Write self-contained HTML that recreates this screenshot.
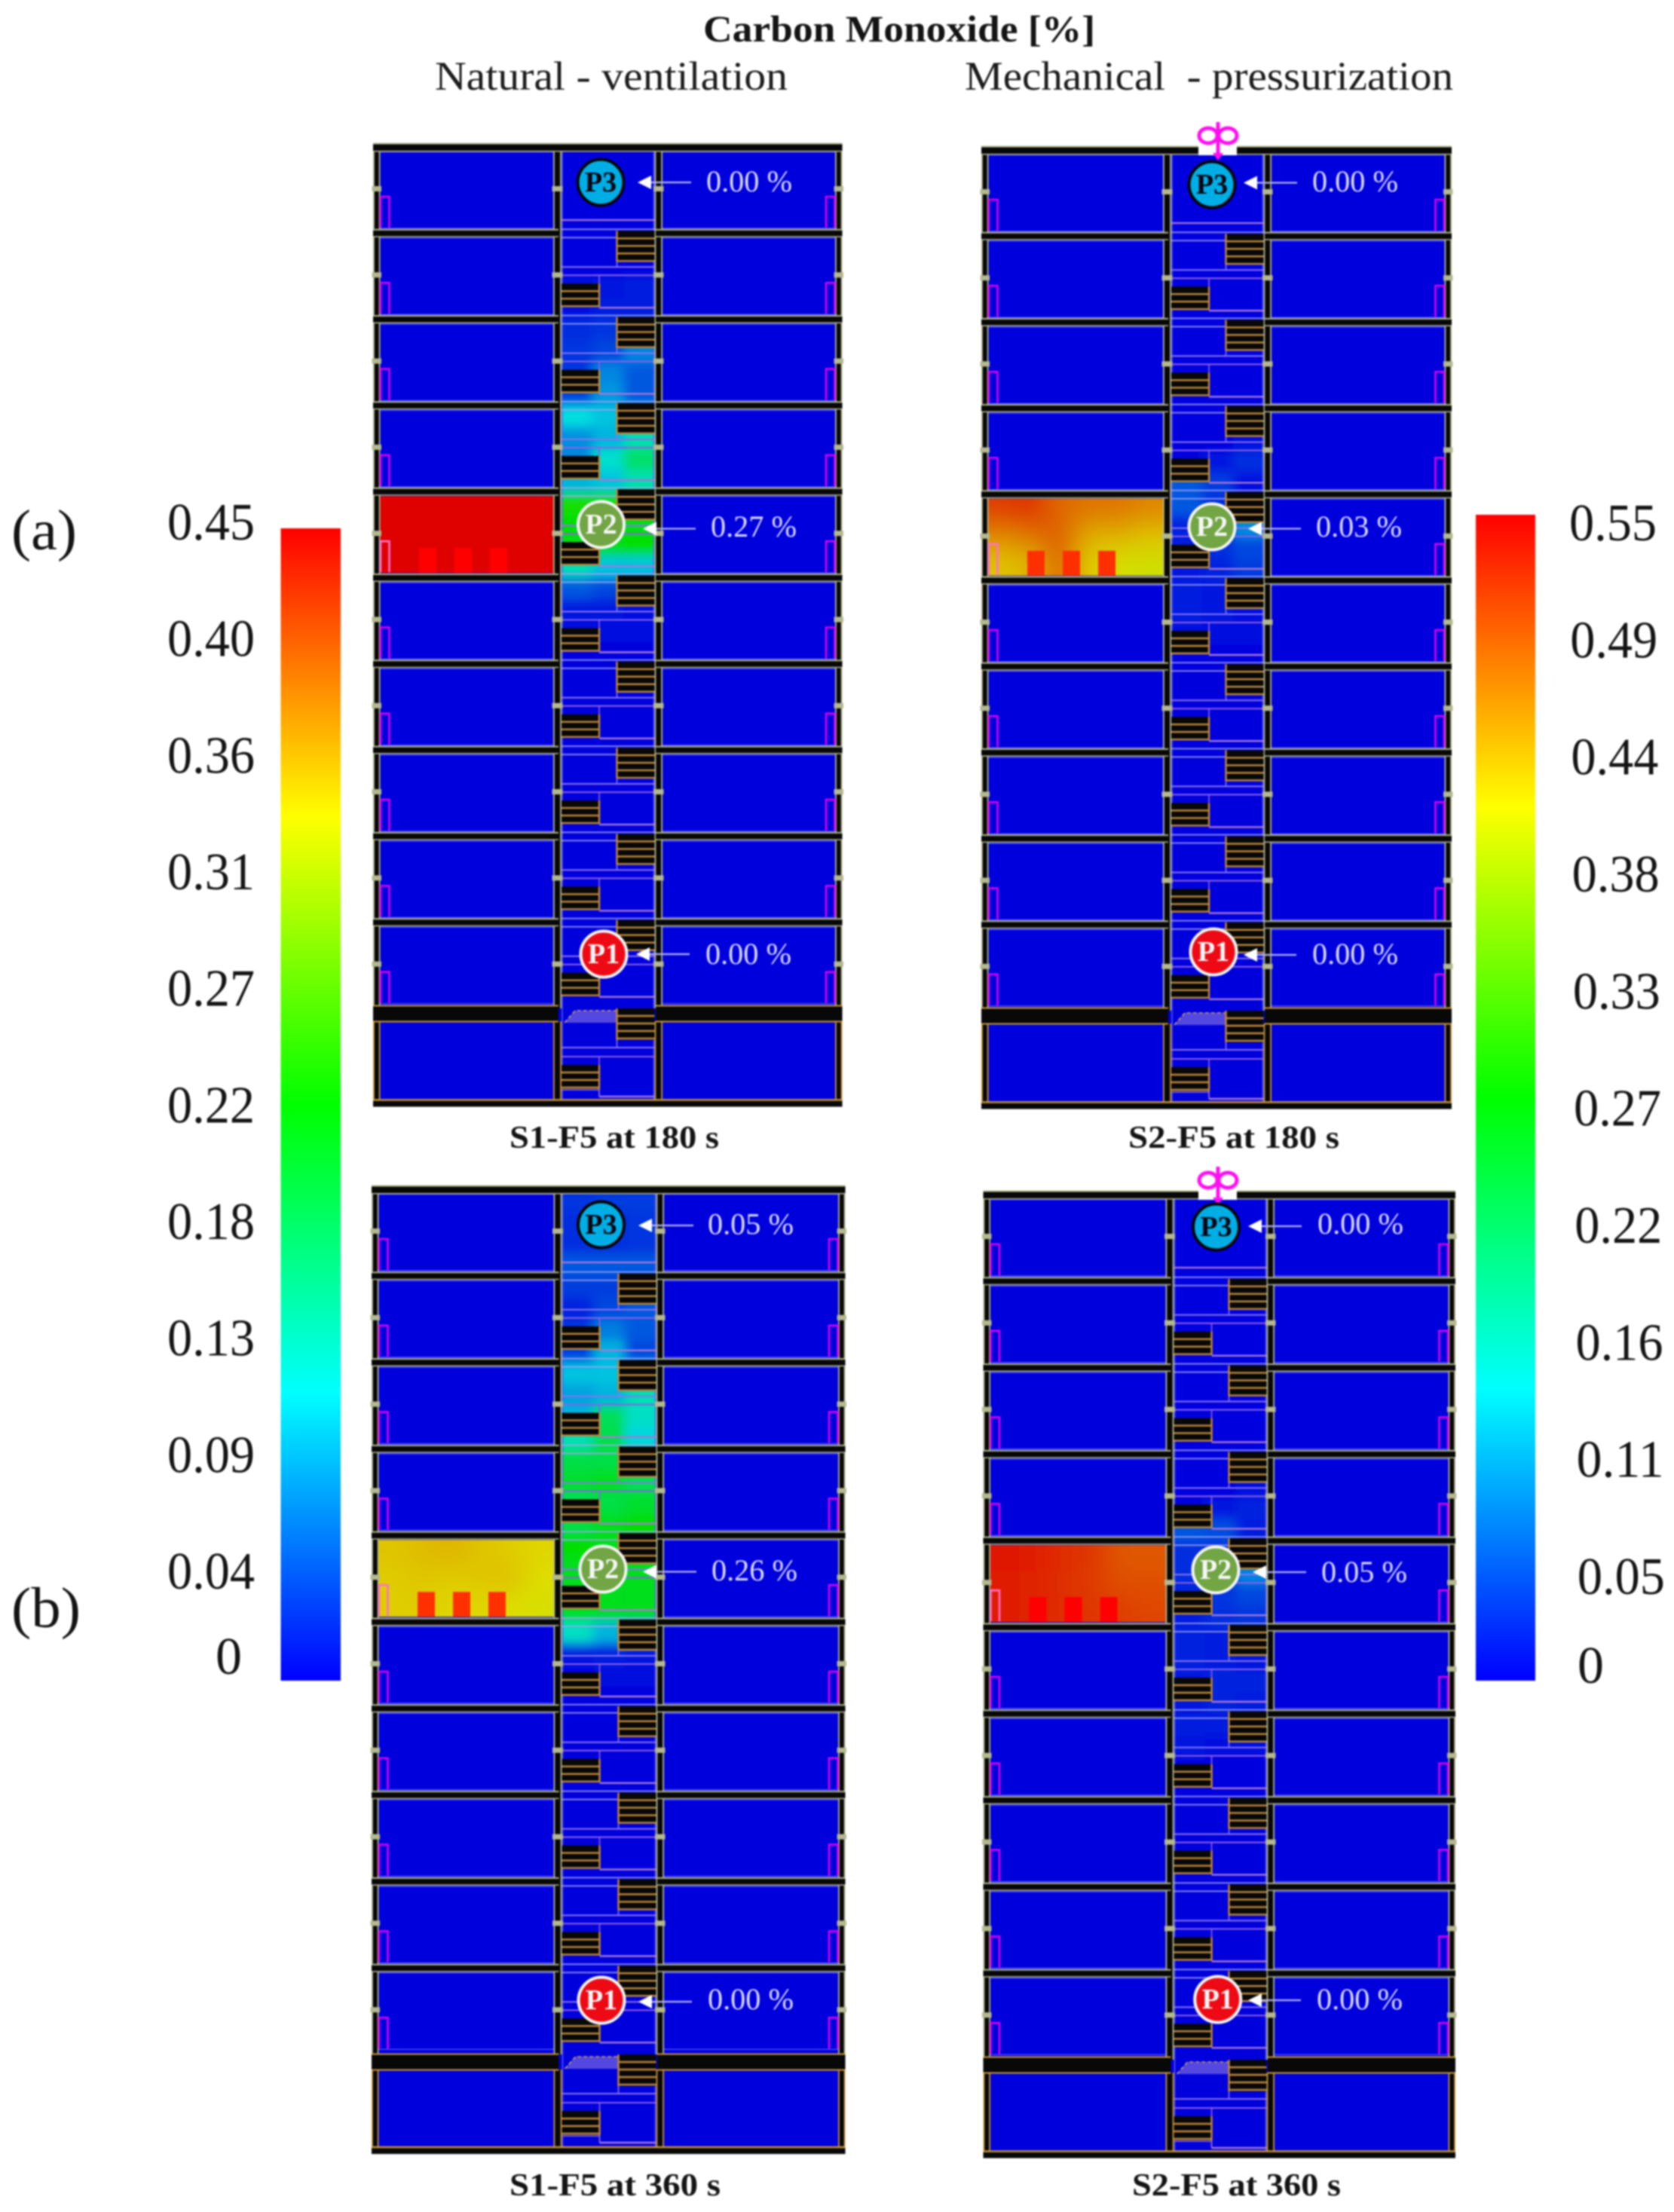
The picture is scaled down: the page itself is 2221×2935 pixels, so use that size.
<!DOCTYPE html>
<html lang="en">
<head>
<meta charset="utf-8">
<title>Carbon Monoxide [%]</title>
<style>
html,body{margin:0;padding:0;background:#fff;}
#figure{display:block;filter:blur(1px);}
text{font-family:"Liberation Serif","DejaVu Serif",serif;}
</style>
</head>
<body>
<svg id="figure" xmlns="http://www.w3.org/2000/svg" width="2221" height="2935" viewBox="0 0 2221 2935">
  <defs>
    <linearGradient id="rainbow" x1="0" y1="0" x2="0" y2="1">
      <stop offset="0" stop-color="#ff0000"/>
      <stop offset="0.25" stop-color="#ffff00"/>
      <stop offset="0.5" stop-color="#00ff00"/>
      <stop offset="0.75" stop-color="#00ffff"/>
      <stop offset="1" stop-color="#0000ff"/>
    </linearGradient>
    <filter id="smoke-blur" x="-30%" y="-30%" width="160%" height="160%">
      <feGaussianBlur stdDeviation="7"/>
    </filter>
    <filter id="room-blur" x="-30%" y="-30%" width="160%" height="160%">
      <feGaussianBlur stdDeviation="18"/>
    </filter>
  </defs>
  <rect x="0" y="0" width="2221" height="2935" fill="#ffffff"/>

  <text x="933" y="55" font-size="50" font-weight="bold" fill="#141414" textLength="520" lengthAdjust="spacingAndGlyphs">Carbon Monoxide [%]</text>
  <text x="577" y="119" font-size="54" fill="#1c1c1c" textLength="468" lengthAdjust="spacingAndGlyphs">Natural - ventilation</text>
  <text x="1280" y="119" font-size="54" fill="#1c1c1c" textLength="648" lengthAdjust="spacingAndGlyphs" xml:space="preserve">Mechanical  - pressurization</text>

  <text x="15" y="729" font-size="76" fill="#141414" textLength="87" lengthAdjust="spacingAndGlyphs">(a)</text>
  <text x="15" y="2159" font-size="76" fill="#141414" textLength="92" lengthAdjust="spacingAndGlyphs">(b)</text>

  <text x="676" y="1523" font-size="42" font-weight="bold" fill="#141414" textLength="278" lengthAdjust="spacingAndGlyphs">S1-F5 at 180 s</text>
  <text x="1497" y="1523" font-size="42" font-weight="bold" fill="#141414" textLength="280" lengthAdjust="spacingAndGlyphs">S2-F5 at 180 s</text>
  <text x="676" y="2913" font-size="42" font-weight="bold" fill="#141414" textLength="280" lengthAdjust="spacingAndGlyphs">S1-F5 at 360 s</text>
  <text x="1502" y="2913" font-size="42" font-weight="bold" fill="#141414" textLength="277" lengthAdjust="spacingAndGlyphs">S2-F5 at 360 s</text>

  <rect x="372.5" y="701" width="79.5" height="1529" fill="url(#rainbow)"/>
  <rect x="1958" y="683" width="79" height="1547" fill="url(#rainbow)"/>
  <g id="ticks"></g>
  <g id="panels"></g>
</svg>

<script>
// ---- colorbar data ----
const leftTickValues = [0.45, 0.405, 0.36, 0.315, 0.27, 0.225, 0.18, 0.135, 0.09, 0.045, 0];
const leftTickLabels = ["0.45", "0.40", "0.36", "0.31", "0.27", "0.22", "0.18", "0.13", "0.09", "0.04", "0"];
const rightTickValues = [0.55, 0.495, 0.44, 0.385, 0.33, 0.275, 0.22, 0.165, 0.11, 0.055, 0];
const rightTickLabels = ["0.55", "0.49", "0.44", "0.38", "0.33", "0.27", "0.22", "0.16", "0.11", "0.05", "0"];

// ---- probe readings, % CO (P3, P2, P1) ----
const readingsS1At180 = [0.00, 0.27, 0.00];
const readingsS2At180 = [0.00, 0.03, 0.00];
const readingsS1At360 = [0.05, 0.26, 0.00];
const readingsS2At360 = [0.00, 0.05, 0.00];

// ---- stairwell CO, fraction of colour scale: four rows per storey, columns left/middle/right ----
const shaftS1At180 = [
  [0,0,0],[0,0,0],[0,0,0],[0,0,0],
  [0,0,0],[0,0,0],[.01,.02,.03],[.01,.03,.03],
  [.05,.06,.06],[.06,.08,.15],[.06,.15,.1],[.07,.17,.1],
  [.25,.22,.2],[.16,.2,.3],[.15,.27,.38],[.2,.22,.3],
  [.52,.52,.5],[.5,.5,.48],[.48,.48,.5],[.3,.22,.22],
  [.1,.08,.04],[.02,.02,.01],[.01,.01,.01],[0,0,0]
];
const shaftS2At180 = [
  [0,0,0],[0,0,0],[0,0,0],[0,0,0],
  [0,0,0],[0,0,0],[0,0,0],[0,0,0],
  [0,0,0],[0,0,0],[0,0,0],[0,0,0],
  [0,0,0],[0,0,.01],[0,.02,.05],[.1,.07,.01],
  [.1,.05,.02],[.04,.03,.16],[.03,.05,.08],[.02,.04,.07],
  [.03,.02,.01],[.03,.02,.01],[.01,.01,.01],[0,0,0]
];
const shaftS1At360 = [
  [.06,.07,.07],[.05,.05,.06],[.05,.05,.06],[.1,.1,.1],
  [.07,.07,.08],[.04,.08,.1],[.06,.14,.1],[.07,.2,.08],
  [.22,.22,.2],[.18,.2,.3],[.2,.4,.28],[.3,.42,.24],
  [.42,.42,.42],[.45,.47,.4],[.4,.42,.45],[.42,.47,.5],
  [.5,.47,.47],[.47,.47,.47],[.47,.47,.47],[.47,.47,.47],
  [.28,.2,.12],[.02,.03,.02],[0,.01,.01],[0,0,0]
];
const shaftS2At360 = [
  [0,0,0],[0,0,0],[0,0,0],[0,0,0],
  [0,0,0],[0,0,0],[0,0,0],[0,0,0],
  [0,0,0],[0,0,0],[0,0,0],[0,0,0],
  [0,0,0],[0,0,.01],[0,.02,.04],[.1,.09,.03],
  [.05,.05,.02],[.05,.03,.15],[.04,.06,.08],[.03,.05,.06],
  [.04,.03,.03],[.04,.03,.02],[.02,.04,.04],[.02,.04,.03],
  [.03,.03,.02],[.02,.01,.01],[0,0,0],[0,0,0]
];

// ---- fire-room CO, fraction of colour scale: three rows, six columns ----
const roomS1At180 = [
  [1,1,1,1,1,1],[1,1,1,1,1,1],[1,1,1,1,1,1]
];
const roomS2At180 = [
  [.93,.95,.88,.87,.87,.85],[.85,.87,.9,.8,.8,.78],[.78,.8,.9,.77,.74,.73]
];
const roomS1At360 = [
  [.78,.79,.8,.78,.77,.76],[.77,.78,.77,.78,.79,.75],[.77,.77,.76,.76,.75,.74]
];
const roomS2At360 = [
  [.98,.97,.95,.94,.9,.9],[.97,.96,.95,.93,.91,.91],[.97,.96,.95,.94,.93,.92]
];

// ---- layout of the four sections ----
const sections = [
  {name:'section-s1-180s', x0:495, x1:1117.5, top:195, sp:114.3, ml:734, mr:868.5, fan:false, fireFill:'#ff0000', slabShift:-3,
   shaft:shaftS1At180, room:roomS1At180, readings:readingsS1At180,
   probes:[[797,242,846,917,242,937,254],[797.5,696,853,923,701.5,943,712],[801,1266,844,915,1266,936,1279]]},
  {name:'section-s2-180s', x0:1302, x1:1926, top:199, sp:114.2, ml:1543, mr:1676.5, fan:true, fireFill:'#ff3000', slabShift:-3,
   shaft:shaftS2At180, room:roomS2At180, readings:readingsS2At180,
   probes:[[1608,245,1650,1721,242.5,1741,254],[1608,699,1656,1726,701.5,1746,712],[1610,1263,1650,1720,1267,1741,1279]]},
  {name:'section-s1-360s', x0:493, x1:1121.5, top:1578, sp:114.8, ml:734.5, mr:870.5, fan:false, fireFill:'#ff3000', slabShift:0,
   shaft:shaftS1At360, room:roomS1At360, readings:readingsS1At360,
   probes:[[797.5,1625,847,920,1626,939,1637.5],[800,2082,853,924,2085.5,944,2097],[798,2654,847,918,2656,939,2666]]},
  {name:'section-s2-360s', x0:1304.5, x1:1931, top:1585, sp:114.8, ml:1546.5, mr:1680.5, fan:true, fireFill:'#ff0000', slabShift:-3,
   shaft:shaftS2At360, room:roomS2At360, readings:readingsS2At360,
   probes:[[1613.5,1628,1656,1727,1627,1748,1637],[1613,2083,1662,1733,2086,1753,2099],[1615.7,2653,1656,1726,2654,1747,2666]]}
];

const probeNames = ['P3','P2','P1'];
const probeFills = ['#00aee6','#72a544','#ee0a14'];
const probeRings = ['#050505','#f4f4f4','#f4f4f4'];
const probeInk = ['#050510','#f6f6f6','#f6f6f6'];

const OLIVE = '#b4b890', BLACK = '#080808', ORANGE = '#c8963a', STEP = '#c08a3c';
const NS = 'http://www.w3.org/2000/svg';

function add(parent, tag, attrs, text) {
  const el = document.createElementNS(NS, tag);
  for (const k in attrs) el.setAttribute(k, attrs[k]);
  if (text !== undefined) el.textContent = text;
  parent.appendChild(el);
  return el;
}

// colour scale: 0 = blue, .25 = cyan, .5 = green, .75 = yellow, 1 = red
function coColor(v) {
  const t = Math.max(0, Math.min(1, v)) * 4;
  const stops = [[0,0,255],[0,255,255],[0,255,0],[255,255,0],[255,0,0]];
  const i = Math.min(3, Math.floor(t));
  const f = t - i;
  const c = stops[i].map((s, k) => Math.round((s + (stops[i + 1][k] - s) * f) * 0.875));
  return 'rgb(' + c.join(',') + ')';
}

// ---- colorbar ticks ----
const yLeftAxis = v => 2108 + (0.045 - v) * (2108 - 716) / 0.405;
const yRightAxis = v => 717 + (0.55 - v) * (2115 - 717) / 0.495;
const tickLayer = document.getElementById('ticks');

leftTickValues.forEach((v, i) => {
  const label = leftTickLabels[i];
  const t = add(tickLayer, 'text', {x: label.length > 1 ? 222 : 286, y: Math.min(yLeftAxis(v), 2221), 'font-size': 70, fill: '#141414'}, label);
  if (label.length > 1) { t.setAttribute('textLength', 116); t.setAttribute('lengthAdjust', 'spacingAndGlyphs'); }
  
  
});
rightTickValues.forEach((v, i) => {
  const label = rightTickLabels[i];
  const t = add(tickLayer, 'text', {x: label.length > 1 ? 2082 + (0.55 - v) * 22 : 2093, y: Math.min(yRightAxis(v), 2233), 'font-size': 70, fill: '#141414'}, label);
  if (label.length > 1) { t.setAttribute('textLength', 116); t.setAttribute('lengthAdjust', 'spacingAndGlyphs'); }
  
  
});

// ---- section drawing ----
function drawWall(g, x, w, y1, y2, edge) {
  const outer = add(g, 'rect', {x: x, y: y1, width: w, height: y2 - y1, fill: edge});
  
  
  add(g, 'rect', {x: x + 1.8, y: y1, width: w - 3.6, height: y2 - y1, fill: BLACK});
}

function drawStair(g, x, y, w, h, side) {
  const s = add(g, 'g', {});
  
  
  add(s, 'rect', {x: x, y: y, width: w, height: h, fill: BLACK});
  for (let yy = y + 10; yy < y + h + 0.5; yy += 10) {
    add(s, 'line', {x1: x, x2: x + w, y1: yy, y2: yy, stroke: STEP, 'stroke-width': 2.4});
  }
  const ex = side === 'right' ? x : x + w;
  add(s, 'line', {x1: ex, x2: ex, y1: y, y2: y + h, stroke: STEP, 'stroke-width': 2.4});
}

function drawSection(p) {
  const root = document.getElementById('panels');
  const g = add(root, 'g', {});
  
  

  const base = i => p.top + i * p.sp;
  const sL = p.ml + 11, sR = p.mr, sW = sR - sL;
  const yBottom = base(10) + 123 + p.slabShift / 2;

  const fillRect = add(g, 'rect', {x: p.x0 + 4, y: base(0), width: p.x1 - p.x0 - 8, height: yBottom - base(0), fill: '#0000dc'});
  
  

  // stairwell smoke cells
  const clipId = 'clip-' + p.name;
  const clip = add(g, 'clipPath', {id: clipId});
  add(clip, 'rect', {x: sL, y: base(0) + 6, width: sW, height: yBottom - base(0) - 6});
  const smokeClip = add(g, 'g', {'clip-path': 'url(#' + clipId + ')'});
  const smoke = add(smokeClip, 'g', {filter: 'url(#smoke-blur)'});
  
  
  const colW = sW / 3, rowH = p.sp / 4;
  p.shaft.forEach((row, r) => {
    row.forEach((v, c) => {
      const pad = c === 0 || c === 2 ? 30 : 0;
      const cell = add(smoke, 'rect', {
        x: sL + c * colW - (c === 0 ? pad : 0),
        y: base(0) + r * rowH,
        width: colW + pad,
        height: rowH + 0.5,
        fill: coColor(v)
      });
      
      
    });
  });

  // fire room cells
  const rx0 = p.x0 + 9.5, rx1 = p.ml, ry0 = base(4) + 6, ry1 = base(4) + 108;
  const roomClipId = 'room-clip-' + p.name;
  const roomClip = add(g, 'clipPath', {id: roomClipId});
  add(roomClip, 'rect', {x: rx0, y: ry0, width: rx1 - rx0, height: ry1 - ry0});
  const roomWrap = add(g, 'g', {'clip-path': 'url(#' + roomClipId + ')'});
  const roomCells = add(roomWrap, 'g', {filter: 'url(#room-blur)'});
  
  
  const cw = (rx1 - rx0) / p.room[0].length, ch = (ry1 - ry0) / p.room.length;
  p.room.forEach((row, r) => {
    row.forEach((v, c) => {
      const padL = c === 0 ? 60 : 0, padR = c === row.length - 1 ? 60 : 0;
      const padT = r === 0 ? 60 : 0, padB = r === p.room.length - 1 ? 60 : 0;
      const cell = add(roomCells, 'rect', {
        x: rx0 + c * cw - padL,
        y: ry0 + r * ch - padT,
        width: cw + padL + padR + 0.5,
        height: ch + padT + padB + 0.5,
        fill: coColor(v)
      });
      
      
    });
  });

  // fire blocks
  [61, 108, 155].forEach(dx => {
    const b = add(g, 'rect', {x: p.x0 + dx, y: base(4) + 75, width: 23, height: 33, fill: p.fireFill});
    
    
  });

  // room outlines
  for (let i = 0; i < 10; i++) {
    [[rx0, p.ml], [p.mr + 10.5, p.x1 - 9.5]].forEach((span, k) => {
      if (i === 4 && k === 0) return;
      const top = add(g, 'line', {x1: span[0], x2: span[1], y1: base(i) + 6.5, y2: base(i) + 6.5, stroke: '#5050ff', 'stroke-width': 1.4});
      
      
      const bottom = add(g, 'line', {x1: span[0], x2: span[1], y1: base(i) + 108, y2: base(i) + 108, stroke: '#5050ff', 'stroke-width': 1.4});
      
      
    });
  }
  add(g, 'line', {x1: sL + 1, x2: sL + 1, y1: base(0) + 6, y2: yBottom, stroke: '#5c5cff', 'stroke-width': 1.4});
  add(g, 'line', {x1: sR - 1, x2: sR - 1, y1: base(0) + 6, y2: yBottom, stroke: '#5c5cff', 'stroke-width': 1.4});

  // landings, shaft lines and stairs
  const rsx = p.mr - 50, lsx = sL + 50;
  const topLanding = add(g, 'line', {x1: sL, x2: sR, y1: base(0) + 97, y2: base(0) + 97, stroke: '#a878d8', 'stroke-width': 2.2});
  
  
  for (let i = 1; i <= 10; i++) {
    const b = base(i);
    const low = i === 10;
    const a1 = low ? 52 : 45, a2 = low ? 64 : 56, st = low ? 75 : 67, en = low ? 107 : 98, en2 = low ? 117 : 99;
    if (!low) {
      add(g, 'line', {x1: sL, x2: sR, y1: b - 5, y2: b - 5, stroke: '#a4a4f4', 'stroke-width': 2, opacity: 0.8});
      add(g, 'line', {x1: sL, x2: sR, y1: b + 6, y2: b + 6, stroke: '#a4a4f4', 'stroke-width': 2, opacity: 0.8});
    }
    add(g, 'line', {x1: sL, x2: sR, y1: b + a1, y2: b + a1, stroke: '#8a74f0', 'stroke-width': 2});
    add(g, 'line', {x1: rsx, x2: rsx, y1: b + 36, y2: b + a1, stroke: '#8a74f0', 'stroke-width': 1.6});
    add(g, 'line', {x1: sL, x2: sR, y1: b + a2, y2: b + a2, stroke: '#8e60e8', 'stroke-width': 2});
    add(g, 'line', {x1: lsx, x2: lsx, y1: b + a2, y2: b + st, stroke: '#8e60e8', 'stroke-width': 1.6});
    add(g, 'line', {x1: lsx, x2: sR, y1: b + en2, y2: b + en2, stroke: '#a878d8', 'stroke-width': 2.4});
    if (low) {
      add(g, 'line', {x1: lsx, x2: lsx, y1: b + en, y2: b + en2, stroke: '#a878d8', 'stroke-width': 1.6});
      add(g, 'line', {x1: sL, x2: lsx, y1: b + en + 1, y2: b + en + 1, stroke: '#a878d8', 'stroke-width': 1.6});
      const ramp = add(g, 'polygon', {points: [sL + 4, b + 19, sL + 18, b + 3, rsx, b + 3, rsx, b + 19].join(' '), fill: '#5448e0'});
      
      
      const rampTop = add(g, 'path', {d: 'M' + (sL + 4) + ' ' + (b + 19) + 'L' + (sL + 18) + ' ' + (b + 3) + 'H' + rsx, fill: 'none', stroke: '#c8a060', 'stroke-width': 1.6, 'stroke-dasharray': '5 3'});
      
      
    }
    drawStair(g, rsx, b + (low ? 0 : -3), 50, low ? 42 : 41, 'right');
    drawStair(g, sL, b + st, 50, en - st, 'left');
  }

  // walls
  const walls = [[p.x0, 9.5], [p.ml, 11], [p.mr, 10.5], [p.x1 - 9.5, 9.5]];
  walls.forEach(w => {
    drawWall(g, w[0], w[1], base(0), base(10), OLIVE);
    drawWall(g, w[0], w[1], base(10) + 20 + p.slabShift, yBottom + 1, ORANGE);
    for (let i = 0; i < 10; i++) {
      const j = add(g, 'rect', {x: w[0] - 1.5, y: base(i) + 52, width: w[1] + 3, height: 7, fill: OLIVE});
      
      
    }
  });

  // door marks
  for (let i = 0; i < 10; i++) {
    const b = base(i);
    const d1 = add(g, 'path', {d: 'M' + (p.x0 + 10) + ' ' + (b + 107) + 'V' + (b + 66) + 'H' + (p.x0 + 21.5) + 'V' + (b + 107), fill: 'none', stroke: i === 4 ? '#ff70d0' : '#d800f0', 'stroke-width': 2.6});
    
    
    const d2 = add(g, 'path', {d: 'M' + (p.x1 - 21.5) + ' ' + (b + 107) + 'V' + (b + 66) + 'H' + (p.x1 - 10) + 'V' + (b + 107), fill: 'none', stroke: '#d800f0', 'stroke-width': 2.6});
    
    
  }

  // floor slabs
  for (let i = 0; i < 10; i++) {
    const b = base(i);
    const parts = i === 0 ? [[p.x0, p.x1]] : [[p.x0, p.ml + 7], [p.mr + 1.5, p.x1]];
    parts.forEach(span => {
      const slab = add(g, 'rect', {x: span[0], y: b - 5.5, width: span[1] - span[0], height: i === 0 ? 12 : 11, fill: OLIVE});
      
      
      add(g, 'rect', {x: span[0], y: b - 3.5, width: span[1] - span[0], height: i === 0 ? 8.5 : 7.5, fill: BLACK});
    });
  }
  // thick slab and ground slab
  [[p.x0, p.ml + 7], [p.mr + 1.5, p.x1]].forEach(span => {
    const slab = add(g, 'rect', {x: span[0], y: base(10) - 1.5 + p.slabShift, width: span[1] - span[0], height: 23, fill: ORANGE});
    
    
    add(g, 'rect', {x: span[0], y: base(10) + 0.5 + p.slabShift, width: span[1] - span[0], height: 19, fill: BLACK});
  });
  const ground = add(g, 'rect', {x: p.x0, y: yBottom, width: p.x1 - p.x0, height: 9, fill: BLACK});
  
  
  add(g, 'line', {x1: p.x0, x2: p.x1, y1: yBottom, y2: yBottom, stroke: ORANGE, 'stroke-width': 2.4});

  // pressurization fan
  if (p.fan) {
    const cx = 1616, b0 = base(0);
    const gap = add(g, 'rect', {x: cx - 26, y: b0 - 6, width: 51, height: 13, fill: '#ffffff'});
    
    
    const fan = add(g, 'g', {fill: 'none', stroke: '#ff10f0', 'stroke-width': 5});
    
    
    add(fan, 'ellipse', {cx: cx - 13, cy: b0 - 19, rx: 12, ry: 10});
    add(fan, 'ellipse', {cx: cx + 13, cy: b0 - 19, rx: 12, ry: 10});
    add(fan, 'line', {x1: cx, x2: cx, y1: b0 - 37, y2: b0 + 6});
    add(fan, 'polygon', {points: [cx - 7, b0 + 4, cx + 7, b0 + 4, cx, b0 + 14].join(' '), fill: '#ff10f0', stroke: 'none'});
  }

  // probes and readings
  p.probes.forEach((q, k) => {
    const [cx, cy, tip, tail, ay, tx, by] = q;
    const arrow = add(g, 'g', {});
    
    
    add(arrow, 'line', {x1: tip + 12, x2: tail, y1: ay, y2: ay, stroke: '#b4b4f0', 'stroke-width': 2.2});
    add(arrow, 'polygon', {points: [tip, ay, tip + 18, ay - 9, tip + 18, ay + 9].join(' '), fill: '#ffffff'});

    const dot = add(g, 'circle', {cx: cx, cy: cy, r: 30.5, fill: probeFills[k], stroke: probeRings[k], 'stroke-width': 4});
    
    

    const lab = add(g, 'text', {x: cx, y: cy + 12, 'text-anchor': 'middle', 'font-size': 38, 'font-weight': 'bold', fill: probeInk[k]}, probeNames[k]);
    
    

    const val = add(g, 'text', {x: tx, y: by, 'font-size': 40, fill: '#dcdcfa', textLength: 114, lengthAdjust: 'spacingAndGlyphs'}, p.readings[k].toFixed(2) + ' %');
    
    
  });
}

sections.forEach(drawSection);
</script>
</body>
</html>
